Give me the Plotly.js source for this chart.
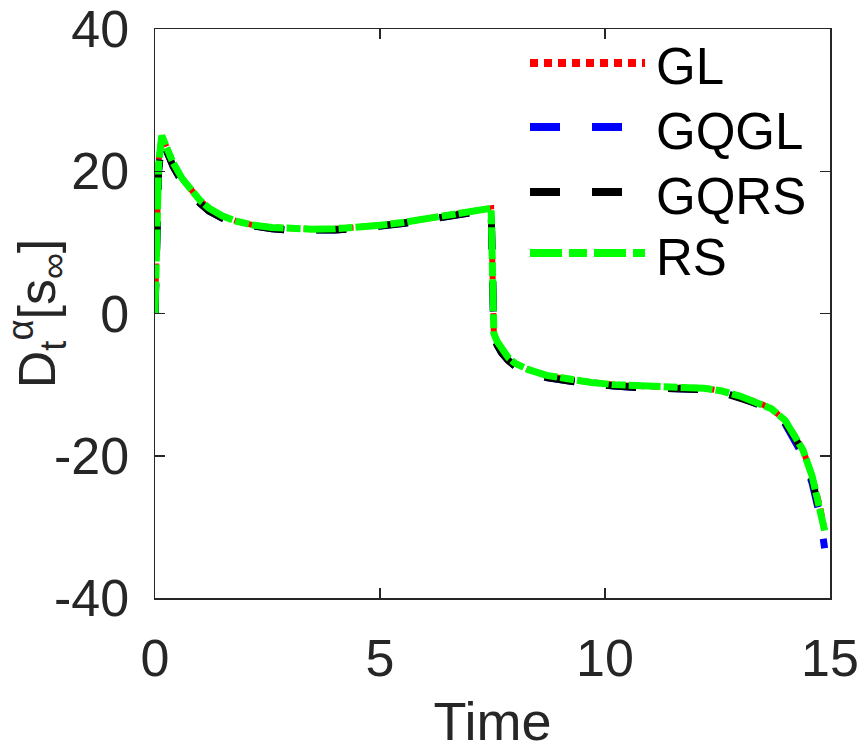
<!DOCTYPE html>
<html>
<head>
<meta charset="utf-8">
<script src="https://cdn.plot.ly/plotly-3.0.1.min.js"></script>
<style>html,body{margin:0;padding:0;background:#fff;}#chart{width:863px;height:751px;}</style>
</head>
<body>
<div id="chart"></div>
<script>
// Data
var time = [0, 0.03, 0.08, 0.15, 0.25, 0.4, 0.6, 0.8, 1.0, 1.2, 1.5, 1.8, 2.2, 2.6, 3.0, 3.5, 4.0, 4.5, 5.0, 5.5, 6.0, 6.5, 7.0, 7.3, 7.47, 7.5, 7.53, 7.6, 7.7, 7.85, 8.0, 8.3, 8.7, 9.2, 9.7, 10.2, 10.7, 11.2, 11.7, 12.2, 12.6, 13.0, 13.4, 13.7, 14.0, 14.25, 14.4, 14.6, 14.78, 14.88];
var GL = [0, 11.5, 21.5, 25, 23.6, 21.2, 19.0, 17.3, 15.9, 14.8, 13.7, 13.0, 12.4, 12.1, 11.9, 11.85, 11.9, 12.1, 12.4, 12.8, 13.3, 13.8, 14.3, 14.6, 14.8, 6.0, -2.8, -3.9, -5.0, -6.2, -7.0, -7.9, -8.7, -9.3, -9.7, -10.0, -10.2, -10.3, -10.4, -10.5, -10.9, -11.6, -12.5, -13.4, -15.0, -17.5, -19.2, -22.8, -27.2, -30.5];
var GQGL = [0, 10, 20, 24.5, 23.0, 20.7, 18.5, 16.8, 15.5, 14.4, 13.4, 12.7, 12.2, 11.9, 11.7, 11.7, 11.75, 11.95, 12.25, 12.65, 13.15, 13.65, 14.15, 14.45, 14.6, 6.0, -3.2, -4.4, -5.5, -6.6, -7.4, -8.2, -9.0, -9.5, -9.9, -10.2, -10.4, -10.5, -10.6, -10.7, -11.1, -11.8, -12.8, -13.8, -15.5, -18.1, -20.0, -23.8, -28.6, -33.0];
var GQRS = [0, 10, 20, 24.5, 23.0, 20.7, 18.5, 16.8, 15.5, 14.4, 13.4, 12.7, 12.2, 11.9, 11.7, 11.7, 11.75, 11.95, 12.25, 12.65, 13.15, 13.65, 14.15, 14.45, 14.6, 6.0, -3.2, -4.4, -5.5, -6.6, -7.4, -8.2, -9.0, -9.5, -9.9, -10.2, -10.4, -10.5, -10.6, -10.7, -11.1, -11.8, -12.7, -13.7, -15.3, -17.8, -19.6, -23.2, -27.8, -31.0];
var RS = [0, 11, 21, 25, 23.6, 21.2, 19.0, 17.3, 15.9, 14.8, 13.7, 13.0, 12.4, 12.1, 11.9, 11.85, 11.9, 12.1, 12.4, 12.8, 13.3, 13.8, 14.3, 14.6, 14.8, 6.0, -2.8, -3.9, -5.0, -6.2, -7.0, -7.9, -8.7, -9.3, -9.7, -10.0, -10.2, -10.3, -10.4, -10.5, -10.9, -11.6, -12.5, -13.4, -15.0, -17.5, -19.2, -22.8, -27.2, -30.5];

var seriesNames = ['GL', 'GQGL', 'GQRS', 'RS'];
var xTickVals = [0, 5, 10, 15];
var xTickText = ['0', '5', '10', '15'];
var yTickVals = [-40, -20, 0, 20, 40];
var yTickText = ['-40', '-20', '0', '20', '40'];

var styles = [
  {color: '#ff0000', dash: '8px,6px', width: 6, legDash: '8px,6px'},
  {color: '#0000ff', dash: '30px,32px', width: 7, legDash: '30px,32px'},
  {color: '#000000', dash: '30px,32px', width: 7, legDash: '30px,32px'},
  {color: '#00ff00', dash: '32px,3px,14px,3px', width: 7, legDash: '32px,7px,18px,7px'}
];
var values = [GL, GQGL, GQRS, RS];

var traces = values.map(function (v, i) {
  return {
    x: time, y: v, type: 'scatter', mode: 'lines', name: seriesNames[i],
    line: {color: styles[i].color, dash: styles[i].dash, width: styles[i].width},
    showlegend: false
  };
});

// custom legend (pixel positions converted to paper coords)
var L = 155, R = 830, T = 29, B = 598;
function px(x) { return (x - L) / (R - L); }
function py(y) { return (B - y) / (B - T); }
var rowsY = [63, 127, 192, 253];
var shapes = [], annotations = [];
var FONT = 'Liberation Sans, Arial, sans-serif';
rowsY.forEach(function (ry, i) {
  shapes.push({type: 'line', xref: 'paper', yref: 'paper', x0: px(530), x1: px(645), y0: py(ry), y1: py(ry),
    line: {color: styles[i].color, dash: styles[i].legDash, width: 8}});
  annotations.push({xref: 'paper', yref: 'paper', x: px(654), y: py(ry + 4), xanchor: 'left', yanchor: 'middle',
    text: seriesNames[i], showarrow: false, font: {family: FONT, size: 51, color: '#000'}});
});

var axisCommon = {
  showline: true, linecolor: '#262626', linewidth: 1.5, mirror: 'ticks',
  ticks: 'inside', ticklen: 10, tickwidth: 1.5, tickcolor: '#262626',
  showgrid: false, zeroline: false, tickmode: 'array',
  tickfont: {family: FONT, size: 52, color: '#262626'}
};

var layout = {
  width: 863, height: 751,
  margin: {l: L, r: 863 - R, t: T, b: 751 - B},
  paper_bgcolor: '#fff', plot_bgcolor: '#fff',
  showlegend: false,
  xaxis: Object.assign({}, axisCommon, {
    range: [0, 15], tickvals: xTickVals, ticktext: xTickText, ticklabelstandoff: 14,
    title: {text: 'Time', standoff: 22, font: {family: FONT, size: 54, color: '#262626'}}
  }),
  yaxis: Object.assign({}, axisCommon, {
    range: [-40, 40], tickvals: yTickVals, ticktext: yTickText, ticklabelstandoff: 14,
    title: {text: 'D<sub>t</sub><sup>α</sup>[s<sub>∞</sub>]', standoff: 4, font: {family: FONT, size: 52, color: '#262626'}}
  }),
  shapes: shapes,
  annotations: annotations
};

Plotly.newPlot('chart', traces, layout, {staticPlot: true, displayModeBar: false});
</script>
</body>
</html>
